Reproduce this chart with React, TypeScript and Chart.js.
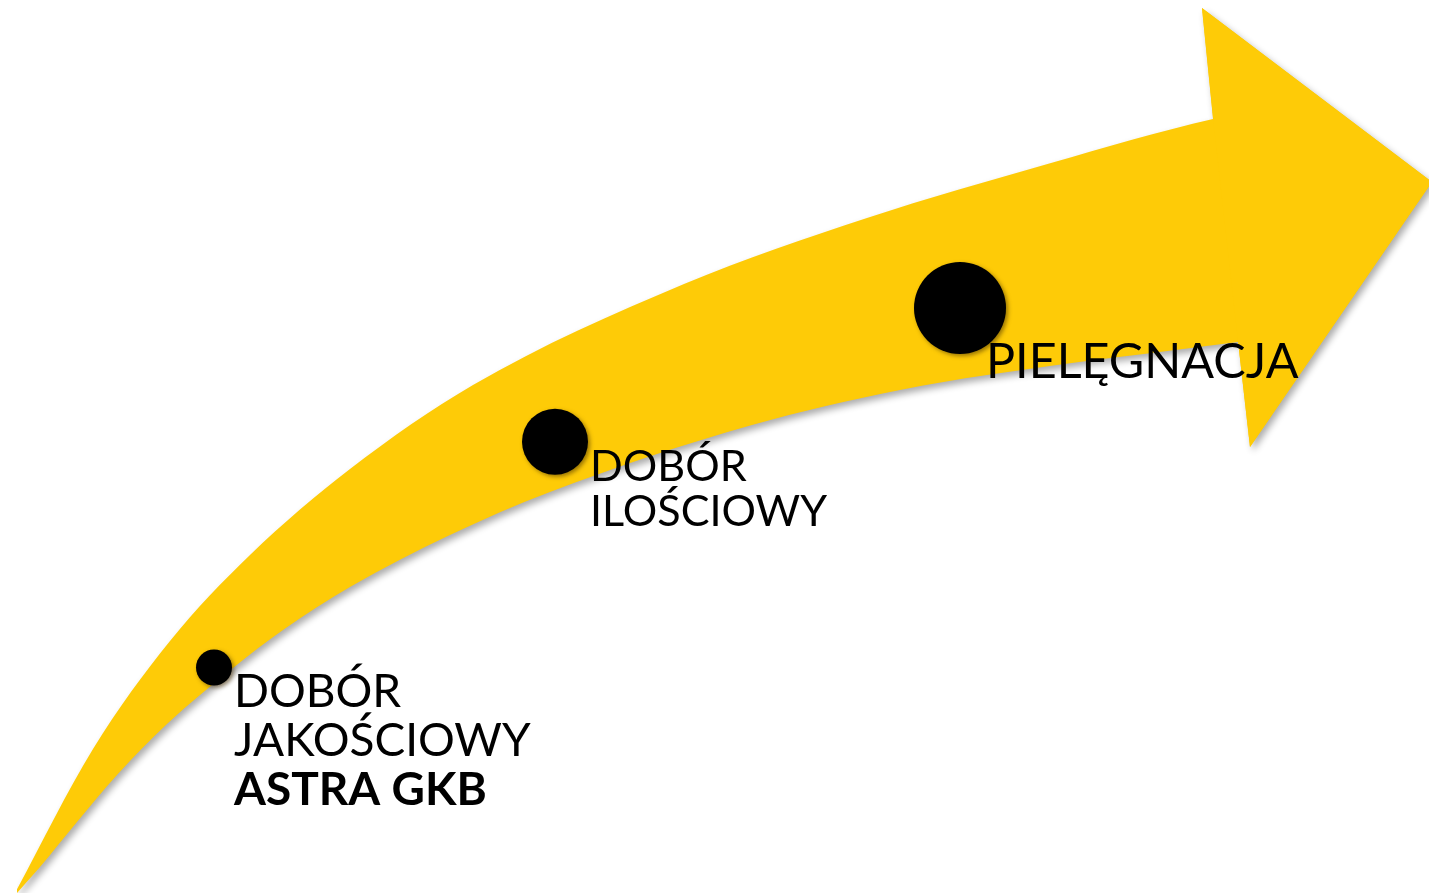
import React, { useEffect, useRef } from "react";
import { Chart, registerables } from "chart.js";

Chart.register(...registerables);

// Upper (outer) edge of the curved arrow body
const upperEdgeX = [15, 93, 170, 250, 350, 473, 684, 867, 1051, 1213, 1240];
const upperEdgeY = [893, 749, 641, 555, 469, 385, 284, 218, 163, 119, 114];

// Lower (inner) edge of the curved arrow body
const lowerEdgeX = [17, 40, 77, 117, 167, 233, 283, 350, 450, 550, 752, 900, 987, 1238];
const lowerEdgeY = [893, 867, 822, 775, 724, 668, 630, 587, 535, 492, 425, 390, 375, 342];

// Arrow head outline
const headX = [1213, 1202, 1432, 1250, 1238];
const headY = [118, 8, 182, 447, 341];

// Stage markers (circles)
const stageX = [214, 555, 960];
const stageY = [667.5, 441.7, 308];
const stageR = [18, 33, 46];

// Stage labels
const stageLines = [["DOBÓR", "JAKOŚCIOWY"], ["DOBÓR", "ILOŚCIOWY"], ["PIELĘGNACJA"]];
const stageBoldLines = [["ASTRA GKB"], [], []];

// label layout (style)
const labelDX = [20, 35, 26];
const labelDY = [39.5, 38.8, 70];
const labelLineH = [49, 45.5, 46];
const labelSize = [46, 43.1, 48.5];

const YELLOW = "#FECB07";

const noShadow = (ctx: CanvasRenderingContext2D) => {
  ctx.shadowColor = "rgba(0,0,0,0)";
  ctx.shadowBlur = 0;
  ctx.shadowOffsetX = 0;
  ctx.shadowOffsetY = 0;
};

const shadowPlugin = {
  id: "shadowPlugin",
  beforeDatasetsDraw(chart: any) {
    const ctx = chart.ctx;
    ctx.save();
    ctx.shadowColor = "rgba(0,0,0,0.33)";
    ctx.shadowBlur = 7;
    ctx.shadowOffsetX = 3;
    ctx.shadowOffsetY = 4;
  },
  afterDatasetDraw(chart: any, args: any) {
    // after the arrow body: the head copy on top is drawn without shadow
    if (args.index === 2) noShadow(chart.ctx);
  },
  beforeDatasetDraw(chart: any, args: any) {
    const ctx = chart.ctx;
    if (args.index === 0) {
      ctx.shadowColor = "rgba(70,45,0,0.55)";
      ctx.shadowBlur = 4;
      ctx.shadowOffsetX = 2;
      ctx.shadowOffsetY = 2;
    }
  },
  afterDatasetsDraw(chart: any) {
    chart.ctx.restore();
  },
};

const labelPlugin = {
  id: "labelPlugin",
  afterDatasetsDraw(chart: any) {
    const ctx = chart.ctx;
    const xs = chart.scales.x;
    const ys = chart.scales.y;
    ctx.save();
    noShadow(ctx);
    ctx.fillStyle = "#000";
    ctx.textAlign = "left";
    ctx.textBaseline = "alphabetic";
    stageLines.forEach((lines, i) => {
      const x0 = xs.getPixelForValue(stageX[i]) + labelDX[i];
      let y0 = ys.getPixelForValue(stageY[i]) + labelDY[i];
      ctx.font = `400 ${labelSize[i]}px Lato`;
      lines.forEach((t) => {
        ctx.fillText(t, x0, y0);
        y0 += labelLineH[i];
      });
      ctx.font = `700 ${labelSize[i]}px Lato`;
      stageBoldLines[i].forEach((t) => {
        ctx.fillText(t, x0, y0);
        y0 += labelLineH[i];
      });
    });
    ctx.restore();
  },
};

export default function App() {
  const ref = useRef<HTMLCanvasElement | null>(null);
  useEffect(() => {
    if (!ref.current) return;
    const toPts = (xs: number[], ys: number[]) => xs.map((x, i) => ({ x, y: ys[i] }));
    const headStyle = {
      type: "line",
      backgroundColor: YELLOW,
      borderColor: YELLOW,
      borderWidth: 0,
      pointRadius: 0,
      tension: 0,
      fill: "shape",
    };
    const chart = new Chart(ref.current, {
      type: "line",
      data: {
        datasets: [
          {
            type: "bubble",
            label: "Etapy",
            data: stageX.map((x, i) => ({ x, y: stageY[i], r: stageR[i] })),
            backgroundColor: "#000",
            borderWidth: 0,
            hoverRadius: 0,
          } as any,
          { ...headStyle, label: "Grot", data: toPts(headX, headY) } as any,
          {
            type: "line",
            label: "Krawędź górna",
            data: toPts(upperEdgeX, upperEdgeY),
            backgroundColor: YELLOW,
            borderColor: YELLOW,
            borderWidth: 0,
            pointRadius: 0,
            cubicInterpolationMode: "monotone",
            fill: "+1",
          } as any,
          {
            type: "line",
            label: "Krawędź dolna",
            data: toPts(lowerEdgeX, lowerEdgeY),
            backgroundColor: YELLOW,
            borderColor: YELLOW,
            borderWidth: 0,
            pointRadius: 0,
            cubicInterpolationMode: "monotone",
            fill: false,
          } as any,
          { ...headStyle, label: "Grot (cień)", data: toPts(headX, headY) } as any,
        ],
      },
      options: {
        animation: false,
        responsive: false,
        events: [],
        layout: { padding: 0, autoPadding: false },
        plugins: {
          legend: { display: false },
          tooltip: { enabled: false },
          filler: { propagate: false },
        },
        scales: {
          x: { type: "linear", min: 0, max: 1429, display: false },
          y: { type: "linear", min: 0, max: 893, reverse: true, display: false },
        },
      },
      plugins: [shadowPlugin, labelPlugin],
    } as any);
    return () => chart.destroy();
  }, []);
  return (
    <div style={{ position: "fixed", left: 0, top: 0, width: 1429, height: 893, background: "#fff" }}>
      <canvas ref={ref} width={1429} height={893} style={{ display: "block" }} />
    </div>
  );
}
